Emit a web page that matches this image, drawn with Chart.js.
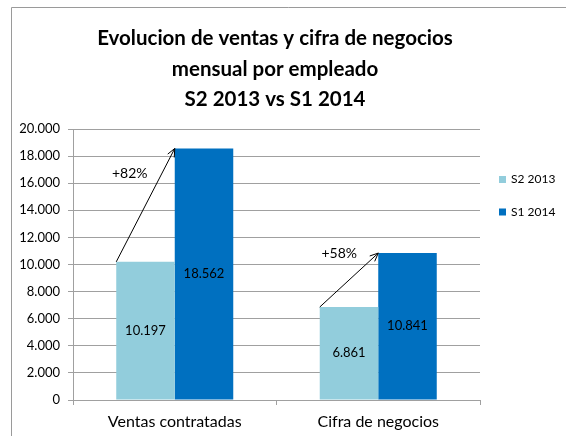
<!DOCTYPE html>
<html>
<head>
<meta charset="utf-8">
<script src="https://cdn.jsdelivr.net/npm/chart.js@4.4.1/dist/chart.umd.min.js"></script>
<style>
  html, body { margin: 0; padding: 0; background: #ffffff; }
  #wrap { position: relative; width: 566px; height: 436px; }
</style>
</head>
<body>
<div id="wrap"><canvas id="chart" width="566" height="436"></canvas></div>
<script>
// ---- chart data ----
const titleLines = ['Evolucion de ventas y cifra de negocios', 'mensual por empleado', 'S2 2013 vs S1 2014'];
const categories = ['Ventas contratadas', 'Cifra de negocios'];
const seriesNames = ['S2 2013', 'S1 2014'];
const valuesS2_2013 = [10197, 6861];
const valuesS1_2014 = [18562, 10841];
const yTickValues = [0, 2000, 4000, 6000, 8000, 10000, 12000, 14000, 16000, 18000, 20000];

// ---- styling ----
const FONT = 'Lato, "Open Sans", sans-serif';
const seriesColors = ['#92CDDC', '#0070C0'];
const gridColor = '#a0a0a0';
// where the growth labels sit, relative to the tip of each arrow
const growthLabelOffsets = [[-45, 25], [-39, 0]];

// Spanish-style thousands separator: 18562 -> "18.562"
function fmt(v) {
  return String(Math.round(v)).replace(/\B(?=(\d{3})+(?!\d))/g, '.');
}

const decorations = {
  id: 'decorations',
  beforeDraw(chart) {
    const ctx = chart.ctx;
    ctx.save();
    // outer frame (top and left edges)
    ctx.strokeStyle = '#9a9a9a';
    ctx.lineWidth = 1;
    ctx.beginPath();
    ctx.moveTo(11.5, 436);
    ctx.lineTo(11.5, 7.5);
    ctx.lineTo(566, 7.5);
    ctx.stroke();

    // title
    ctx.fillStyle = '#000';
    ctx.textAlign = 'center';
    ctx.textBaseline = 'middle';
    ctx.font = 'bold 20.5px ' + FONT;
    const titleY = [38, 69, 99];
    titleLines.forEach((line, i) => ctx.fillText(line, 275, titleY[i]));

    // legend
    ctx.font = '12px ' + FONT;
    ctx.textAlign = 'left';
    const legendY = [179.5, 212];
    chart.data.datasets.forEach((ds, i) => {
      ctx.fillStyle = ds.backgroundColor;
      ctx.fillRect(499, legendY[i] - 3.5, 7, 7);
      ctx.fillStyle = '#000';
      ctx.fillText(ds.label, 511, legendY[i]);
    });
    ctx.restore();
  },
  afterDatasetsDraw(chart) {
    const ctx = chart.ctx;
    ctx.save();
    // value labels centred in each bar
    ctx.font = '13px ' + FONT;
    ctx.fillStyle = '#000';
    ctx.textAlign = 'center';
    ctx.textBaseline = 'middle';
    chart.data.datasets.forEach((ds, di) => {
      chart.getDatasetMeta(di).data.forEach((bar, j) => {
        ctx.fillText(fmt(ds.data[j]), bar.x, (bar.y + bar.base) / 2);
      });
    });

    // growth arrows from the top-left corner of the S2 bar to the S1 bar
    const m0 = chart.getDatasetMeta(0).data;
    const m1 = chart.getDatasetMeta(1).data;
    ctx.strokeStyle = '#000';
    ctx.lineWidth = 1;
    m0.forEach((b0, j) => {
      const b1 = m1[j];
      const x0 = b0.x - b0.width / 2, y0 = b0.y;
      const x1 = b1.x - b1.width / 2, y1 = b1.y;
      ctx.beginPath();
      ctx.moveTo(x0, y0);
      ctx.lineTo(x1, y1);
      const ang = Math.atan2(y1 - y0, x1 - x0);
      const len = 9, spread = 0.42;
      ctx.moveTo(x1 - len * Math.cos(ang - spread), y1 - len * Math.sin(ang - spread));
      ctx.lineTo(x1, y1);
      ctx.lineTo(x1 - len * Math.cos(ang + spread), y1 - len * Math.sin(ang + spread));
      ctx.stroke();

      const growth = Math.round((valuesS1_2014[j] / valuesS2_2013[j] - 1) * 100);
      ctx.font = '14px ' + FONT;
      ctx.fillText('+' + growth + '%', x1 + growthLabelOffsets[j][0], y1 + growthLabelOffsets[j][1]);
    });
    ctx.restore();
  }
};

new Chart(document.getElementById('chart'), {
  type: 'bar',
  data: {
    labels: categories,
    datasets: [
      { label: seriesNames[0], data: valuesS2_2013, backgroundColor: seriesColors[0], borderWidth: 0 },
      { label: seriesNames[1], data: valuesS1_2014, backgroundColor: seriesColors[1], borderWidth: 0 }
    ]
  },
  options: {
    responsive: false,
    animation: false,
    devicePixelRatio: 1,
    layout: { padding: { left: 11, top: 129, right: 86, bottom: 0 } },
    datasets: { bar: { barPercentage: 1, categoryPercentage: 0.575 } },
    plugins: {
      legend: { display: false },
      title: { display: false },
      tooltip: { enabled: false }
    },
    scales: {
      x: {
        grid: { display: true, drawOnChartArea: false, offset: true, tickLength: 5, color: gridColor },
        border: { color: gridColor },
        ticks: { color: '#000', font: { family: FONT, size: 16 }, padding: 7 },
        afterFit(scale) { scale.height = 36; }
      },
      y: {
        min: yTickValues[0],
        max: yTickValues[yTickValues.length - 1],
        afterBuildTicks(scale) { scale.ticks = yTickValues.map(v => ({ value: v })); },
        grid: { color: gridColor, tickLength: 5 },
        border: { color: gridColor },
        ticks: { color: '#000', font: { family: FONT, size: 13 }, padding: 8, callback: v => fmt(v) },
        afterFit(scale) { scale.width = 62; }
      }
    }
  },
  plugins: [decorations]
});
</script>
</body>
</html>
